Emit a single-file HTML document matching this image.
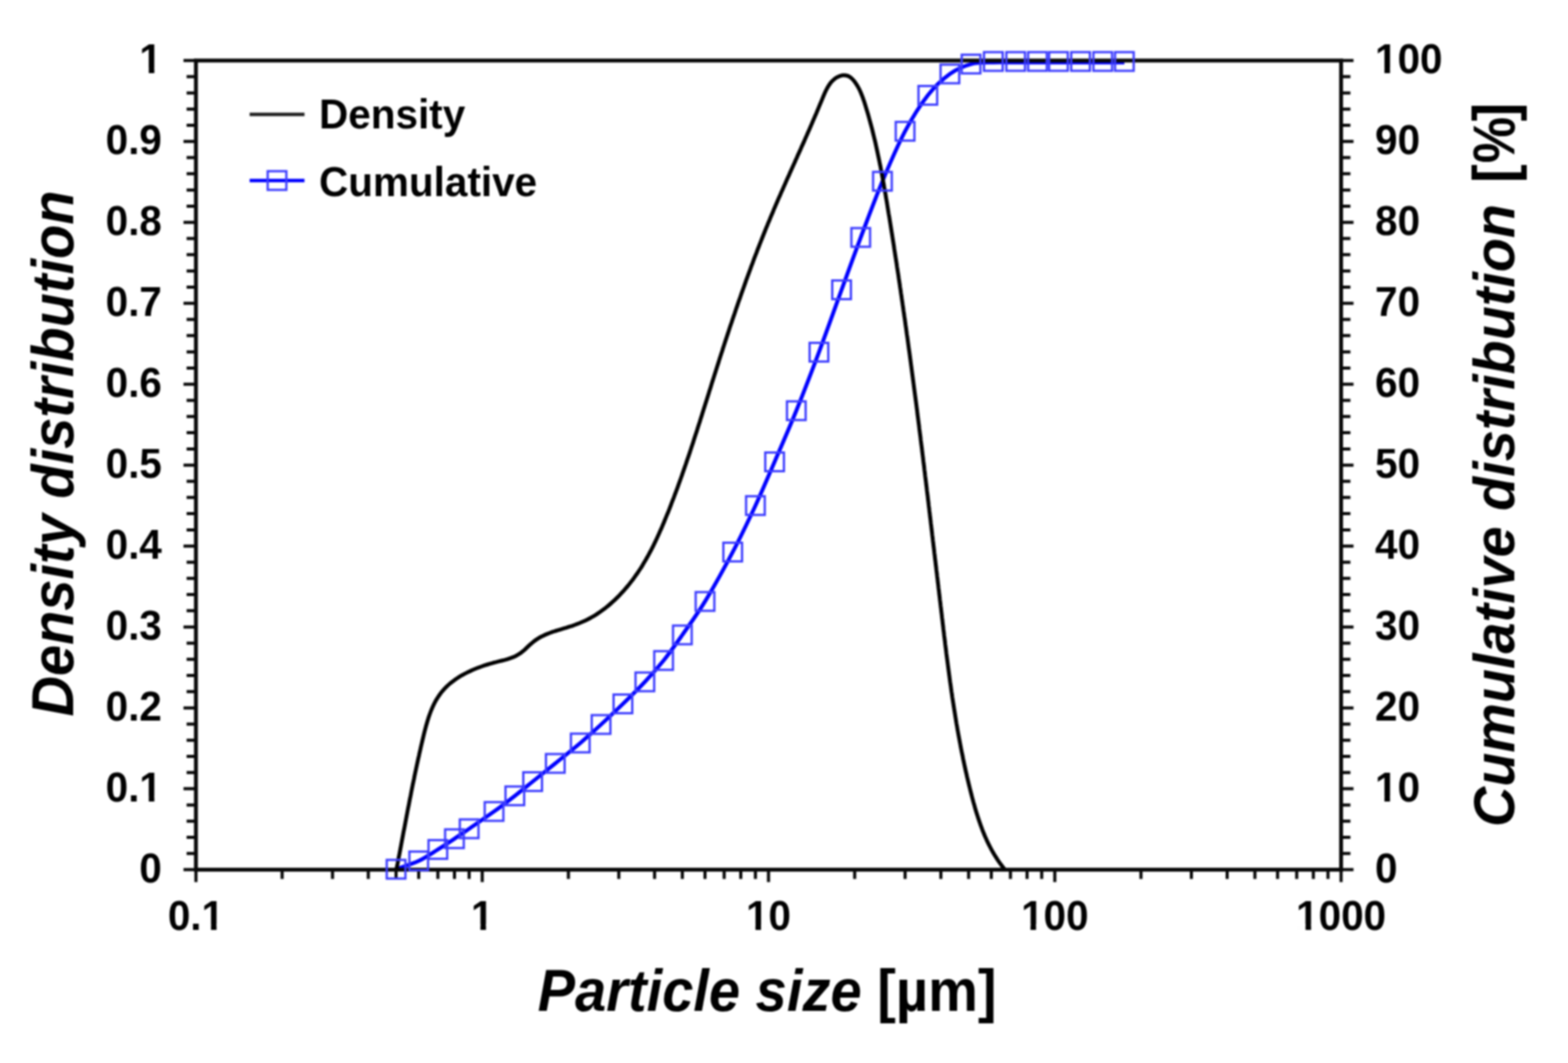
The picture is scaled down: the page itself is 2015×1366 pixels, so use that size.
<!DOCTYPE html>
<html><head><meta charset="utf-8"><style>
html,body{margin:0;padding:0;background:#fff;overflow:hidden;width:2015px;height:1366px;}
svg{display:block;filter:blur(0.9px);}
text{font-family:"Liberation Sans",Arial,sans-serif;font-weight:bold;fill:#000;}
.tl{font-size:52px;}
.ti{font-size:72px;}
.it{font-style:italic;}
</style></head><body>
<svg width="2015" height="1366" viewBox="0 0 2015 1366">
<rect width="2015" height="1366" fill="#fff"/>
<g class="tl"><text transform="translate(208,1134.1) scale(1,1.04)" text-anchor="end">0</text><text transform="translate(1767,1134.1) scale(1,1.04)">0</text><text transform="translate(208,1030.1) scale(1,1.04)" text-anchor="end">0.1</text><text transform="translate(1767,1030.1) scale(1,1.04)">10</text><text transform="translate(208,926.1) scale(1,1.04)" text-anchor="end">0.2</text><text transform="translate(1767,926.1) scale(1,1.04)">20</text><text transform="translate(208,822.2) scale(1,1.04)" text-anchor="end">0.3</text><text transform="translate(1767,822.2) scale(1,1.04)">30</text><text transform="translate(208,718.2) scale(1,1.04)" text-anchor="end">0.4</text><text transform="translate(1767,718.2) scale(1,1.04)">40</text><text transform="translate(208,614.2) scale(1,1.04)" text-anchor="end">0.5</text><text transform="translate(1767,614.2) scale(1,1.04)">50</text><text transform="translate(208,510.2) scale(1,1.04)" text-anchor="end">0.6</text><text transform="translate(1767,510.2) scale(1,1.04)">60</text><text transform="translate(208,406.2) scale(1,1.04)" text-anchor="end">0.7</text><text transform="translate(1767,406.2) scale(1,1.04)">70</text><text transform="translate(208,302.3) scale(1,1.04)" text-anchor="end">0.8</text><text transform="translate(1767,302.3) scale(1,1.04)">80</text><text transform="translate(208,198.3) scale(1,1.04)" text-anchor="end">0.9</text><text transform="translate(1767,198.3) scale(1,1.04)">90</text><text transform="translate(208,94.3) scale(1,1.04)" text-anchor="end">1</text><text transform="translate(1767,94.3) scale(1,1.04)">100</text><text transform="translate(251.8,1194.5) scale(1,1.04)" text-anchor="middle">0.1</text><text transform="translate(619.7,1194.5) scale(1,1.04)" text-anchor="middle">1</text><text transform="translate(987.6,1194.5) scale(1,1.04)" text-anchor="middle">10</text><text transform="translate(1355.5,1194.5) scale(1,1.04)" text-anchor="middle">100</text><text transform="translate(1723.4,1194.5) scale(1,1.04)" text-anchor="middle">1000</text></g>
<g fill="#fff"><rect x="181.56" y="1023.30" width="9.66" height="7.82"/><rect x="198.35" y="1023.30" width="9.00" height="7.82"/><rect x="1769.48" y="1023.30" width="9.66" height="7.82"/><rect x="1786.27" y="1023.30" width="9.00" height="7.82"/><rect x="181.56" y="87.48" width="9.66" height="7.82"/><rect x="198.35" y="87.48" width="9.00" height="7.82"/><rect x="1769.48" y="87.48" width="9.66" height="7.82"/><rect x="1786.27" y="87.48" width="9.00" height="7.82"/><rect x="261.50" y="1187.68" width="9.66" height="7.82"/><rect x="278.30" y="1187.68" width="9.00" height="7.82"/><rect x="607.72" y="1187.68" width="9.66" height="7.82"/><rect x="624.51" y="1187.68" width="9.00" height="7.82"/><rect x="961.16" y="1187.68" width="9.66" height="7.82"/><rect x="977.95" y="1187.68" width="9.00" height="7.82"/><rect x="1314.60" y="1187.68" width="9.66" height="7.82"/><rect x="1331.39" y="1187.68" width="9.00" height="7.82"/><rect x="1668.04" y="1187.68" width="9.66" height="7.82"/><rect x="1684.83" y="1187.68" width="9.00" height="7.82"/></g>
<text class="ti" transform="translate(94.4,920.8) rotate(-90) scale(1,1.045)"><tspan class="it">Density distribution</tspan></text>
<text class="ti" transform="translate(1946,1062.8) rotate(-90) scale(1,1.045)"><tspan class="it" style="font-size:71.7px">Cumulative distribution</tspan><tspan x="827.7">[</tspan><tspan x="906.8">]</tspan></text>
<text class="ti" transform="translate(1946,209.7) rotate(-90) scale(0.93,1.045)">%</text>
<text class="ti" transform="translate(691,1299.3) scale(1,1.045)"><tspan class="it">Particle size</tspan> [µm]</text>
<path d="M509.0,1117.0 C513.8,1115.2 529.1,1110.5 538.1,1106.3 C547.0,1102.1 555.1,1096.3 562.7,1091.6 C570.4,1086.8 577.4,1082.2 584.0,1077.8 C590.7,1073.4 594.4,1070.8 602.9,1065.0 C611.3,1059.2 625.1,1049.8 634.9,1042.8 C644.7,1035.8 653.4,1029.1 661.6,1022.7 C669.9,1016.3 675.8,1011.4 684.5,1004.4 C693.1,997.4 703.4,989.3 713.6,981.0 C723.8,972.7 735.9,963.1 745.7,954.8 C755.5,946.5 763.2,939.4 772.4,931.0 C781.5,922.6 791.1,913.6 800.5,904.5 C809.9,895.4 820.0,885.5 828.7,876.2 C837.5,866.9 844.7,858.8 852.8,848.8 C860.8,838.8 868.0,828.5 876.9,815.9 C885.7,803.2 895.2,790.6 906.0,772.9 C916.8,755.1 930.8,729.9 941.6,709.4 C952.4,688.9 961.8,669.0 970.8,649.7 C979.7,630.4 986.6,613.8 995.4,593.5 C1004.1,573.2 1013.8,551.3 1023.3,527.8 C1032.8,504.3 1042.7,478.5 1052.4,452.6 C1062.1,426.7 1072.6,397.0 1081.5,372.4 C1090.5,347.8 1097.4,328.4 1106.1,305.1 C1114.9,281.9 1124.5,255.6 1134.0,232.9 C1143.5,210.2 1153.4,187.1 1163.1,168.7 C1172.8,150.3 1182.7,134.8 1192.3,122.5 C1201.9,110.2 1211.4,101.7 1220.7,95.0 C1229.9,88.3 1238.6,84.8 1247.9,82.3 C1257.2,79.8 1267.0,80.5 1276.5,80.2 C1286.1,79.9 1295.8,80.2 1305.2,80.2 C1314.7,80.2 1324.1,80.2 1333.2,80.2 C1342.4,80.2 1351.0,80.2 1360.2,80.2 C1369.4,80.2 1379.1,80.2 1388.6,80.2 C1398.0,80.2 1407.7,80.2 1417.1,80.2 C1426.4,80.2 1440.3,80.2 1444.9,80.2" fill="none" stroke="#0000ff" stroke-width="5.0" stroke-linejoin="round"/>
<path d="M235.8,1117.60H251.8 M239.8,1096.80H251.8 M239.8,1076.01H251.8 M239.8,1055.21H251.8 M239.8,1034.42H251.8 M235.8,1013.62H251.8 M239.8,992.82H251.8 M239.8,972.03H251.8 M239.8,951.23H251.8 M239.8,930.44H251.8 M235.8,909.64H251.8 M239.8,888.84H251.8 M239.8,868.05H251.8 M239.8,847.25H251.8 M239.8,826.46H251.8 M235.8,805.66H251.8 M239.8,784.86H251.8 M239.8,764.07H251.8 M239.8,743.27H251.8 M239.8,722.48H251.8 M235.8,701.68H251.8 M239.8,680.88H251.8 M239.8,660.09H251.8 M239.8,639.29H251.8 M239.8,618.50H251.8 M235.8,597.70H251.8 M239.8,576.90H251.8 M239.8,556.11H251.8 M239.8,535.31H251.8 M239.8,514.52H251.8 M235.8,493.72H251.8 M239.8,472.92H251.8 M239.8,452.13H251.8 M239.8,431.33H251.8 M239.8,410.54H251.8 M235.8,389.74H251.8 M239.8,368.94H251.8 M239.8,348.15H251.8 M239.8,327.35H251.8 M239.8,306.56H251.8 M235.8,285.76H251.8 M239.8,264.96H251.8 M239.8,244.17H251.8 M239.8,223.37H251.8 M239.8,202.58H251.8 M235.8,181.78H251.8 M239.8,160.98H251.8 M239.8,140.19H251.8 M239.8,119.39H251.8 M239.8,98.60H251.8 M235.8,77.80H251.8 M1723.4,1117.60H1739.4 M1723.4,1096.80H1735.4 M1723.4,1076.01H1735.4 M1723.4,1055.21H1735.4 M1723.4,1034.42H1735.4 M1723.4,1013.62H1739.4 M1723.4,992.82H1735.4 M1723.4,972.03H1735.4 M1723.4,951.23H1735.4 M1723.4,930.44H1735.4 M1723.4,909.64H1739.4 M1723.4,888.84H1735.4 M1723.4,868.05H1735.4 M1723.4,847.25H1735.4 M1723.4,826.46H1735.4 M1723.4,805.66H1739.4 M1723.4,784.86H1735.4 M1723.4,764.07H1735.4 M1723.4,743.27H1735.4 M1723.4,722.48H1735.4 M1723.4,701.68H1739.4 M1723.4,680.88H1735.4 M1723.4,660.09H1735.4 M1723.4,639.29H1735.4 M1723.4,618.50H1735.4 M1723.4,597.70H1739.4 M1723.4,576.90H1735.4 M1723.4,556.11H1735.4 M1723.4,535.31H1735.4 M1723.4,514.52H1735.4 M1723.4,493.72H1739.4 M1723.4,472.92H1735.4 M1723.4,452.13H1735.4 M1723.4,431.33H1735.4 M1723.4,410.54H1735.4 M1723.4,389.74H1739.4 M1723.4,368.94H1735.4 M1723.4,348.15H1735.4 M1723.4,327.35H1735.4 M1723.4,306.56H1735.4 M1723.4,285.76H1739.4 M1723.4,264.96H1735.4 M1723.4,244.17H1735.4 M1723.4,223.37H1735.4 M1723.4,202.58H1735.4 M1723.4,181.78H1739.4 M1723.4,160.98H1735.4 M1723.4,140.19H1735.4 M1723.4,119.39H1735.4 M1723.4,98.60H1735.4 M1723.4,77.80H1739.4 M251.80,1117.6V1133.6 M362.55,1117.6V1129.6 M427.33,1117.6V1129.6 M473.30,1117.6V1129.6 M508.95,1117.6V1129.6 M538.08,1117.6V1129.6 M562.71,1117.6V1129.6 M584.05,1117.6V1129.6 M602.87,1117.6V1129.6 M619.70,1117.6V1133.6 M730.45,1117.6V1129.6 M795.23,1117.6V1129.6 M841.20,1117.6V1129.6 M876.85,1117.6V1129.6 M905.98,1117.6V1129.6 M930.61,1117.6V1129.6 M951.95,1117.6V1129.6 M970.77,1117.6V1129.6 M987.60,1117.6V1133.6 M1098.35,1117.6V1129.6 M1163.13,1117.6V1129.6 M1209.10,1117.6V1129.6 M1244.75,1117.6V1129.6 M1273.88,1117.6V1129.6 M1298.51,1117.6V1129.6 M1319.85,1117.6V1129.6 M1338.67,1117.6V1129.6 M1355.50,1117.6V1133.6 M1466.25,1117.6V1129.6 M1531.03,1117.6V1129.6 M1577.00,1117.6V1129.6 M1612.65,1117.6V1129.6 M1641.78,1117.6V1129.6 M1666.41,1117.6V1129.6 M1687.75,1117.6V1129.6 M1706.57,1117.6V1129.6 M1723.40,1117.6V1133.6" stroke="#080808" stroke-width="4.0" fill="none"/>
<rect x="251.8" y="77.8" width="1471.6" height="1039.8" fill="none" stroke="#080808" stroke-width="5.0"/>
<path d="M509.5,1117.0 L510.2,1113.2 L511.0,1109.4 L511.7,1105.6 L512.4,1101.8 L513.2,1098.0 L513.9,1094.3 L514.6,1090.5 L515.3,1086.7 L516.0,1083.0 L516.7,1079.2 L517.4,1075.5 L518.1,1071.7 L518.8,1068.0 L519.6,1064.2 L520.3,1060.5 L521.0,1056.8 L521.7,1053.1 L522.4,1049.3 L523.1,1045.6 L523.8,1041.9 L524.5,1038.2 L525.3,1034.4 L526.0,1030.7 L526.7,1027.0 L527.5,1023.3 L528.2,1019.6 L528.9,1015.9 L529.7,1012.1 L530.4,1008.4 L531.2,1004.7 L532.0,1001.0 L532.7,997.2 L533.5,993.5 L534.3,989.8 L535.1,986.0 L535.9,982.3 L536.7,978.6 L537.5,974.8 L538.4,971.1 L539.2,967.3 L540.1,963.5 L540.9,959.8 L541.8,956.0 L542.7,952.2 L543.6,948.4 L544.5,944.6 L545.4,940.8 L546.4,937.1 L547.4,933.3 L548.5,929.5 L549.6,925.8 L550.7,922.2 L552.0,918.5 L553.3,915.0 L554.7,911.4 L556.2,908.0 L557.8,904.6 L559.5,901.3 L561.4,898.1 L563.4,895.0 L565.5,892.0 L567.7,889.1 L570.1,886.3 L572.6,883.6 L575.3,881.0 L578.1,878.5 L581.0,876.2 L584.1,873.9 L587.2,871.8 L590.4,869.7 L593.7,867.7 L597.1,865.9 L600.6,864.1 L604.1,862.4 L607.7,860.8 L611.3,859.3 L615.0,857.8 L618.7,856.5 L622.4,855.2 L626.2,854.0 L629.9,852.9 L633.7,851.8 L637.4,850.9 L641.1,849.9 L644.8,849.0 L648.4,848.1 L652.0,847.1 L655.5,845.9 L659.0,844.6 L662.3,843.2 L665.5,841.4 L668.7,839.4 L671.7,837.1 L674.6,834.6 L677.4,831.9 L680.3,829.2 L683.2,826.6 L686.2,824.1 L689.3,821.9 L692.5,819.8 L695.8,818.0 L699.1,816.4 L702.6,814.9 L706.1,813.5 L709.7,812.2 L713.3,811.0 L716.9,809.9 L720.5,808.8 L724.2,807.7 L727.8,806.6 L731.4,805.4 L735.1,804.3 L738.7,803.0 L742.2,801.7 L745.7,800.3 L749.2,798.8 L752.7,797.2 L756.1,795.5 L759.4,793.7 L762.7,791.8 L766.0,789.8 L769.2,787.7 L772.3,785.5 L775.4,783.2 L778.5,780.9 L781.5,778.5 L784.4,776.0 L787.3,773.4 L790.1,770.8 L792.9,768.1 L795.6,765.4 L798.3,762.6 L800.9,759.8 L803.4,756.9 L805.9,754.0 L808.4,751.0 L810.7,748.0 L813.1,745.0 L815.3,741.9 L817.5,738.8 L819.7,735.7 L821.8,732.5 L823.9,729.3 L825.9,726.1 L827.8,722.8 L829.8,719.5 L831.6,716.2 L833.5,712.9 L835.3,709.5 L837.1,706.2 L838.8,702.8 L840.5,699.4 L842.2,695.9 L843.8,692.5 L845.4,689.0 L847.0,685.5 L848.5,682.1 L850.1,678.6 L851.6,675.0 L853.1,671.5 L854.5,668.0 L856.0,664.4 L857.4,660.9 L858.9,657.4 L860.3,653.8 L861.7,650.3 L863.0,646.7 L864.4,643.1 L865.8,639.6 L867.1,636.0 L868.5,632.4 L869.8,628.9 L871.1,625.3 L872.4,621.7 L873.7,618.1 L875.0,614.5 L876.3,610.9 L877.5,607.3 L878.8,603.7 L880.0,600.1 L881.3,596.5 L882.5,592.9 L883.7,589.3 L885.0,585.7 L886.2,582.1 L887.4,578.5 L888.6,574.8 L889.8,571.2 L891.0,567.6 L892.1,564.0 L893.3,560.3 L894.5,556.7 L895.7,553.1 L896.8,549.5 L898.0,545.8 L899.2,542.2 L900.3,538.5 L901.5,534.9 L902.6,531.3 L903.8,527.6 L904.9,524.0 L906.1,520.3 L907.2,516.7 L908.4,513.0 L909.5,509.4 L910.7,505.7 L911.8,502.1 L913.0,498.4 L914.1,494.8 L915.2,491.1 L916.4,487.5 L917.6,483.8 L918.7,480.2 L919.9,476.5 L921.0,472.9 L922.2,469.2 L923.4,465.6 L924.5,461.9 L925.7,458.3 L926.9,454.6 L928.1,451.0 L929.2,447.3 L930.4,443.7 L931.6,440.0 L932.8,436.4 L934.0,432.7 L935.2,429.1 L936.4,425.4 L937.6,421.8 L938.8,418.1 L940.1,414.5 L941.3,410.8 L942.5,407.2 L943.8,403.6 L945.0,399.9 L946.2,396.3 L947.5,392.7 L948.7,389.0 L950.0,385.4 L951.3,381.8 L952.5,378.2 L953.8,374.6 L955.1,371.0 L956.4,367.3 L957.7,363.7 L958.9,360.1 L960.3,356.5 L961.6,352.9 L962.9,349.3 L964.2,345.8 L965.5,342.2 L966.9,338.6 L968.2,335.0 L969.5,331.4 L970.9,327.9 L972.3,324.3 L973.6,320.7 L975.0,317.2 L976.4,313.6 L977.8,310.1 L979.2,306.5 L980.6,303.0 L982.0,299.5 L983.4,296.0 L984.8,292.4 L986.3,288.9 L987.7,285.4 L989.2,281.9 L990.6,278.4 L992.1,274.9 L993.6,271.4 L995.0,267.9 L996.5,264.5 L998.0,261.0 L999.5,257.5 L1001.0,254.1 L1002.6,250.6 L1004.1,247.1 L1005.6,243.7 L1007.1,240.2 L1008.7,236.7 L1010.2,233.3 L1011.7,229.8 L1013.3,226.4 L1014.8,222.9 L1016.4,219.4 L1017.9,216.0 L1019.5,212.5 L1021.1,209.0 L1022.6,205.5 L1024.2,202.1 L1025.7,198.6 L1027.3,195.1 L1028.9,191.6 L1030.4,188.1 L1032.0,184.6 L1033.6,181.1 L1035.1,177.5 L1036.7,174.0 L1038.2,170.5 L1039.8,166.9 L1041.3,163.4 L1042.9,159.8 L1044.4,156.2 L1046.0,152.6 L1047.5,149.0 L1049.1,145.4 L1050.6,141.8 L1052.1,138.1 L1053.6,134.5 L1055.2,130.8 L1056.7,127.1 L1058.2,123.5 L1059.8,119.8 L1061.4,116.3 L1063.2,112.9 L1065.1,109.7 L1067.2,106.7 L1069.6,104.0 L1072.3,101.6 L1075.2,99.5 L1078.6,97.9 L1082.2,96.8 L1086.0,96.7 L1089.6,97.5 L1092.9,99.4 L1095.8,102.0 L1098.4,105.1 L1100.6,108.4 L1102.7,111.8 L1104.5,115.2 L1106.1,118.7 L1107.5,122.2 L1108.8,125.7 L1110.1,129.3 L1111.3,132.9 L1112.4,136.5 L1113.5,140.2 L1114.6,143.8 L1115.7,147.5 L1116.7,151.1 L1117.7,154.8 L1118.7,158.5 L1119.7,162.2 L1120.7,165.9 L1121.6,169.6 L1122.5,173.3 L1123.4,177.0 L1124.3,180.7 L1125.2,184.4 L1126.0,188.2 L1126.8,191.9 L1127.6,195.6 L1128.4,199.4 L1129.2,203.1 L1130.0,206.9 L1130.7,210.6 L1131.5,214.3 L1132.2,218.1 L1132.9,221.9 L1133.6,225.6 L1134.3,229.4 L1135.0,233.1 L1135.7,236.9 L1136.3,240.7 L1137.0,244.4 L1137.7,248.2 L1138.3,252.0 L1138.9,255.7 L1139.6,259.5 L1140.2,263.3 L1140.8,267.1 L1141.4,270.8 L1142.0,274.6 L1142.7,278.4 L1143.3,282.2 L1143.9,285.9 L1144.5,289.7 L1145.1,293.5 L1145.7,297.3 L1146.3,301.0 L1146.9,304.8 L1147.5,308.6 L1148.1,312.4 L1148.7,316.1 L1149.2,319.9 L1149.8,323.7 L1150.4,327.5 L1151.0,331.3 L1151.6,335.0 L1152.2,338.8 L1152.7,342.6 L1153.3,346.4 L1153.9,350.2 L1154.5,353.9 L1155.0,357.7 L1155.6,361.5 L1156.2,365.3 L1156.7,369.1 L1157.3,372.8 L1157.8,376.6 L1158.4,380.4 L1158.9,384.2 L1159.5,388.0 L1160.0,391.7 L1160.6,395.5 L1161.1,399.3 L1161.7,403.1 L1162.2,406.9 L1162.8,410.7 L1163.3,414.4 L1163.8,418.2 L1164.4,422.0 L1164.9,425.8 L1165.4,429.6 L1166.0,433.4 L1166.5,437.2 L1167.0,440.9 L1167.5,444.7 L1168.0,448.5 L1168.6,452.3 L1169.1,456.1 L1169.6,459.9 L1170.1,463.7 L1170.6,467.5 L1171.1,471.2 L1171.6,475.0 L1172.1,478.8 L1172.6,482.6 L1173.1,486.4 L1173.6,490.2 L1174.1,494.0 L1174.6,497.8 L1175.1,501.6 L1175.6,505.3 L1176.1,509.1 L1176.6,512.9 L1177.1,516.7 L1177.6,520.5 L1178.1,524.3 L1178.6,528.1 L1179.0,531.9 L1179.5,535.7 L1180.0,539.5 L1180.5,543.3 L1181.0,547.1 L1181.4,550.8 L1181.9,554.6 L1182.4,558.4 L1182.9,562.2 L1183.3,566.0 L1183.8,569.8 L1184.3,573.6 L1184.8,577.4 L1185.2,581.2 L1185.7,585.0 L1186.2,588.8 L1186.6,592.6 L1187.1,596.4 L1187.6,600.2 L1188.0,604.0 L1188.5,607.8 L1188.9,611.6 L1189.4,615.3 L1189.9,619.1 L1190.3,622.9 L1190.8,626.7 L1191.2,630.5 L1191.7,634.3 L1192.2,638.1 L1192.6,641.9 L1193.1,645.7 L1193.5,649.5 L1194.0,653.3 L1194.4,657.1 L1194.9,660.9 L1195.3,664.7 L1195.8,668.5 L1196.2,672.3 L1196.7,676.1 L1197.1,679.9 L1197.6,683.7 L1198.0,687.5 L1198.5,691.3 L1198.9,695.1 L1199.4,698.9 L1199.8,702.7 L1200.3,706.5 L1200.7,710.3 L1201.2,714.1 L1201.6,717.9 L1202.1,721.6 L1202.5,725.4 L1203.0,729.2 L1203.4,733.0 L1203.9,736.8 L1204.3,740.6 L1204.8,744.4 L1205.2,748.2 L1205.7,752.0 L1206.1,755.8 L1206.6,759.6 L1207.0,763.4 L1207.5,767.2 L1207.9,771.0 L1208.4,774.8 L1208.8,778.6 L1209.3,782.4 L1209.7,786.2 L1210.2,790.0 L1210.6,793.8 L1211.1,797.6 L1211.5,801.4 L1212.0,805.2 L1212.4,809.0 L1212.9,812.8 L1213.3,816.6 L1213.8,820.4 L1214.3,824.2 L1214.7,828.0 L1215.2,831.8 L1215.7,835.5 L1216.1,839.3 L1216.6,843.1 L1217.1,846.9 L1217.6,850.7 L1218.1,854.5 L1218.6,858.3 L1219.1,862.1 L1219.6,865.9 L1220.1,869.7 L1220.6,873.5 L1221.1,877.2 L1221.7,881.0 L1222.2,884.8 L1222.7,888.6 L1223.3,892.4 L1223.8,896.1 L1224.4,899.9 L1225.0,903.7 L1225.6,907.5 L1226.2,911.3 L1226.8,915.0 L1227.4,918.8 L1228.0,922.6 L1228.6,926.3 L1229.2,930.1 L1229.9,933.9 L1230.5,937.6 L1231.2,941.4 L1231.9,945.2 L1232.6,948.9 L1233.3,952.7 L1234.0,956.4 L1234.7,960.2 L1235.4,963.9 L1236.2,967.7 L1237.0,971.4 L1237.7,975.2 L1238.5,978.9 L1239.3,982.7 L1240.1,986.4 L1240.9,990.1 L1241.8,993.9 L1242.6,997.6 L1243.5,1001.3 L1244.4,1005.1 L1245.3,1008.8 L1246.2,1012.5 L1247.1,1016.2 L1248.1,1020.0 L1249.0,1023.7 L1250.0,1027.4 L1251.0,1031.1 L1252.1,1034.8 L1253.1,1038.5 L1254.2,1042.2 L1255.3,1045.8 L1256.5,1049.5 L1257.7,1053.1 L1258.9,1056.7 L1260.2,1060.3 L1261.5,1063.9 L1262.8,1067.5 L1264.3,1071.0 L1265.7,1074.5 L1267.3,1078.0 L1268.8,1081.4 L1270.5,1084.8 L1272.2,1088.2 L1274.0,1091.6 L1275.8,1094.9 L1277.8,1098.2 L1279.8,1101.4 L1281.8,1104.6 L1284.0,1107.8 L1286.2,1110.9 L1288.6,1114.0 L1291.0,1117.0" fill="none" stroke="#000" stroke-width="5.0" stroke-linejoin="round"/>
<g fill="none" stroke="#3c3cff" stroke-width="2.9"><rect x="497.0" y="1105.0" width="24" height="24"/><rect x="526.1" y="1094.3" width="24" height="24"/><rect x="550.7" y="1079.6" width="24" height="24"/><rect x="572.0" y="1065.8" width="24" height="24"/><rect x="590.9" y="1053.0" width="24" height="24"/><rect x="622.9" y="1030.8" width="24" height="24"/><rect x="649.6" y="1010.7" width="24" height="24"/><rect x="672.5" y="992.4" width="24" height="24"/><rect x="701.6" y="969.0" width="24" height="24"/><rect x="733.7" y="942.8" width="24" height="24"/><rect x="760.4" y="919.0" width="24" height="24"/><rect x="788.5" y="892.5" width="24" height="24"/><rect x="816.7" y="864.2" width="24" height="24"/><rect x="840.8" y="836.8" width="24" height="24"/><rect x="864.9" y="803.9" width="24" height="24"/><rect x="894.0" y="760.9" width="24" height="24"/><rect x="929.6" y="697.4" width="24" height="24"/><rect x="958.8" y="637.7" width="24" height="24"/><rect x="983.4" y="581.5" width="24" height="24"/><rect x="1011.3" y="515.8" width="24" height="24"/><rect x="1040.4" y="440.6" width="24" height="24"/><rect x="1069.5" y="360.4" width="24" height="24"/><rect x="1094.1" y="293.1" width="24" height="24"/><rect x="1122.0" y="220.9" width="24" height="24"/><rect x="1151.1" y="156.7" width="24" height="24"/><rect x="1180.3" y="110.5" width="24" height="24"/><rect x="1208.7" y="83.0" width="24" height="24"/><rect x="1235.9" y="70.3" width="24" height="24"/><rect x="1264.5" y="67.0" width="24" height="24"/><rect x="1293.2" y="67.0" width="24" height="24"/><rect x="1321.2" y="67.0" width="24" height="24"/><rect x="1348.2" y="67.0" width="24" height="24"/><rect x="1376.6" y="67.0" width="24" height="24"/><rect x="1405.1" y="67.0" width="24" height="24"/><rect x="1432.9" y="67.0" width="24" height="24"/></g>
<path d="M320.8,147H391.3" stroke="#222" stroke-width="4.4"/>
<path d="M320.8,232H391.3" stroke="#0000ff" stroke-width="4.6"/>
<rect x="344" y="220" width="24" height="24" fill="none" stroke="#3c3cff" stroke-width="2.9"/>
<text class="tl" transform="translate(410,164.8) scale(1,1.04)">Density</text>
<text class="tl" transform="translate(410,252.1) scale(1,1.04)">Cumulative</text>
</svg>
</body></html>
